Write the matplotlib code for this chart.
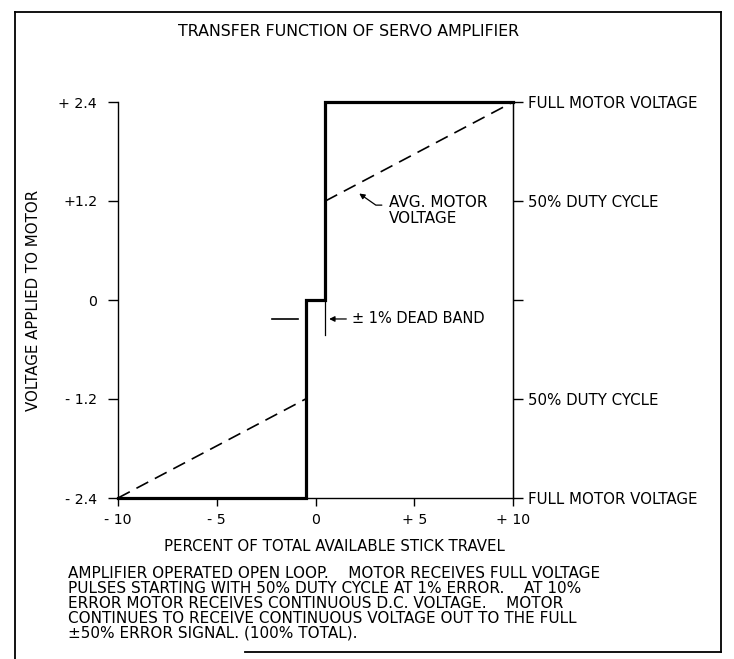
import matplotlib
matplotlib.use('Agg')
import matplotlib.pyplot as plt
from matplotlib.lines import Line2D

plt.rcParams['font.family'] = ['DejaVu Sans']

# transfer function (thick solid) and average motor voltage (dashed)
step_x = [-10, -0.5, -0.5, 0.5, 0.5, 10]
step_y = [-2.4, -2.4, 0, 0, 2.4, 2.4]
avg_lo_x = [-10, -0.5]
avg_lo_y = [-2.4, -1.2]
avg_hi_x = [0.5, 10]
avg_hi_y = [1.2, 2.4]

x_ticks = [-10, -5, 0, 5, 10]
x_labels = ['- 10', '- 5', '0', '+ 5', '+ 10']
y_ticks = [2.4, 1.2, 0, -1.2, -2.4]
y_labels = ['+ 2.4', '+1.2', '0', '- 1.2', '- 2.4']
right_labels = ['FULL MOTOR VOLTAGE', '50% DUTY CYCLE', '', '50% DUTY CYCLE', 'FULL MOTOR VOLTAGE']

NOTE = ("AMPLIFIER OPERATED OPEN LOOP.    MOTOR RECEIVES FULL VOLTAGE\n"
        "PULSES STARTING WITH 50% DUTY CYCLE AT 1% ERROR.    AT 10%\n"
        "ERROR MOTOR RECEIVES CONTINUOUS D.C. VOLTAGE.    MOTOR\n"
        "CONTINUES TO RECEIVE CONTINUOUS VOLTAGE OUT TO THE FULL\n"
        "\u00b150% ERROR SIGNAL. (100% TOTAL).")

W, H = 734, 659
fig = plt.figure(figsize=(W / 100, H / 100), dpi=100)
ax = fig.add_axes([118 / W, 1 - 498 / H, 395 / W, 396 / H])

ax.plot(step_x, step_y, color='black', lw=2.3, clip_on=False, solid_joinstyle='miter')
ax.plot(avg_lo_x, avg_lo_y, color='black', lw=1.2, dashes=(8, 4.5))
ax.plot(avg_hi_x, avg_hi_y, color='black', lw=1.2, dashes=(8, 4.5))

ax.set_xlim(-10, 10)
ax.set_ylim(-2.4, 2.4)
ax.spines['top'].set_visible(False)
for s in ['left', 'bottom', 'right']:
    ax.spines[s].set_linewidth(1.0)

ax.set_xticks(x_ticks, x_labels)
ax.set_yticks(y_ticks, y_labels)
ax.tick_params(axis='x', direction='out', length=6, width=1, pad=5, labelsize=10.2)
ax.tick_params(axis='y', direction='out', length=7, width=1, pad=8, labelsize=10.2)

ax2 = ax.twinx()
ax2.set_ylim(-2.4, 2.4)
ax2.set_yticks(y_ticks, right_labels)
ax2.tick_params(axis='y', direction='out', length=7, width=1, pad=4, labelsize=10.8)
for s in ['top', 'left', 'bottom']:
    ax2.spines[s].set_visible(False)

ax.set_ylabel('VOLTAGE APPLIED TO MOTOR', fontsize=10.8)
ax.yaxis.set_label_coords(-0.195, 0.5)
ax.set_xlabel('PERCENT OF TOTAL AVAILABLE STICK TRAVEL', fontsize=10.8)
ax.xaxis.set_label_coords(0.547, -0.103)

# avg motor voltage callout
ax.text(3.7, 1.27, 'AVG. MOTOR\nVOLTAGE', fontsize=11, ha='left', va='top', linespacing=1.05)
ax.annotate('', xy=(2.1, 1.31), xytext=(3.5, 1.15),
            arrowprops=dict(arrowstyle='-|>', color='black', lw=0.9, mutation_scale=8,
                            connectionstyle='angle,angleA=0,angleB=-35,rad=0'))

# dead band dimension
ax.plot([-2.2, -0.9], [-0.23, -0.23], color='black', lw=1.2)
ax.plot([0.5, 0.5], [0, -0.42], color='black', lw=0.9)
ax.annotate('', xy=(0.55, -0.23), xytext=(1.7, -0.23),
            arrowprops=dict(arrowstyle='-|>', color='black', lw=0.9, mutation_scale=8))
ax.text(1.85, -0.23, '\u00b1 1% DEAD BAND', fontsize=10.5, ha='left', va='center')

fig.text(178 / W, 1 - 32 / H, 'TRANSFER FUNCTION OF SERVO AMPLIFIER', fontsize=11.4,
         ha='left', va='center')
fig.text(68 / W, 1 - 566 / H, NOTE, fontsize=11, ha='left', va='top', linespacing=1.0)

# page frame
frame = [([15, 721], [12, 12]), ([15, 15], [12, 659]), ([721, 721], [12, 652]),
         ([245, 721], [652, 652])]
for xs, ys in frame:
    fig.add_artist(Line2D([x / W for x in xs], [1 - y / H for y in ys],
                          color='black', lw=1.3))

fig.savefig('out.png', dpi=100)
